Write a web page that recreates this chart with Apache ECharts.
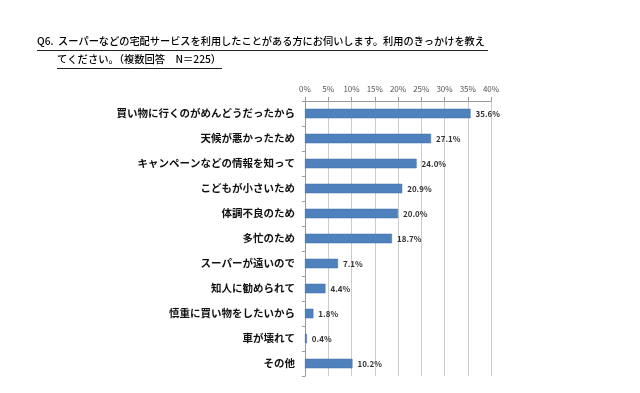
<!DOCTYPE html>
<html><head><meta charset="utf-8">
<script src="https://cdn.jsdelivr.net/npm/echarts@6/dist/echarts.min.js"></script>
<style>html,body{margin:0;padding:0;background:#fff}#c{width:640px;height:393px}</style>
</head><body><div id="c"></div>
<script>
const categories = ['買い物に行くのがめんどうだったから','天候が悪かったため','キャンペーンなどの情報を知って','こどもが小さいため','体調不良のため','多忙のため','スーパーが遠いので','知人に勧められて','慎重に買い物をしたいから','車が壊れて','その他'];
const values = [35.6, 27.1, 24.0, 20.9, 20.0, 18.7, 7.1, 4.4, 1.8, 0.4, 10.2];
const titleLine1 = 'Q6.  スーパーなどの宅配サービスを利用したことがある方にお伺いします。利用のきっかけを教え';
const titleLine2 = 'てください。（複数回答　N＝225）';
const FONT = '"Noto Sans CJK JP", sans-serif';
const chart = echarts.init(document.getElementById('c'), null, {renderer:'canvas'});
chart.setOption({
  backgroundColor:'#fff',
  animation:false,
  textStyle:{fontFamily:FONT},
  grid:{left:305, right:149, top:101, bottom:17, containLabel:false},
  graphic:[
    {type:'text', left:37, top:36, style:{text:titleLine1, font:'500 10.2px '+FONT, fill:'#000'}},
    {type:'text', left:57, top:54, style:{text:titleLine2, font:'500 10.3px '+FONT, fill:'#000'}},
    {type:'line', shape:{x1:37,y1:50.5,x2:488,y2:50.5}, style:{stroke:'#222', lineWidth:1}},
    {type:'line', shape:{x1:57,y1:68.5,x2:222,y2:68.5}, style:{stroke:'#222', lineWidth:1}}
  ],
  xAxis:{
    type:'value', position:'top', min:0, max:40, interval:5,
    axisLine:{show:true, lineStyle:{color:'#9a9a9a'}},
    axisTick:{show:true, length:4, lineStyle:{color:'#9a9a9a'}},
    axisLabel:{formatter:'{value}%', fontSize:8, color:'#555', margin:8, fontFamily:FONT},
    splitLine:{show:true, lineStyle:{color:'#cccccc', width:1}}
  },
  yAxis:{
    type:'category', data:categories, inverse:true,
    axisLine:{show:true, lineStyle:{color:'#9a9a9a'}},
    axisTick:{show:true, length:3, lineStyle:{color:'#9a9a9a'}},
    axisLabel:{fontSize:10.5, fontWeight:'bold', color:'#111', margin:10, fontFamily:FONT}
  },
  series:[{
    type:'bar', data:values, barWidth:'38%',
    itemStyle:{color:'#4F81BD', borderColor:'#3f6fa8', borderWidth:0.5},
    label:{show:true, position:'right', distance:5, fontSize:8, fontWeight:'bold', color:'#333',
      formatter:p=>p.value.toFixed(1)+'%', fontFamily:FONT}
  }]
});
</script></body></html>
